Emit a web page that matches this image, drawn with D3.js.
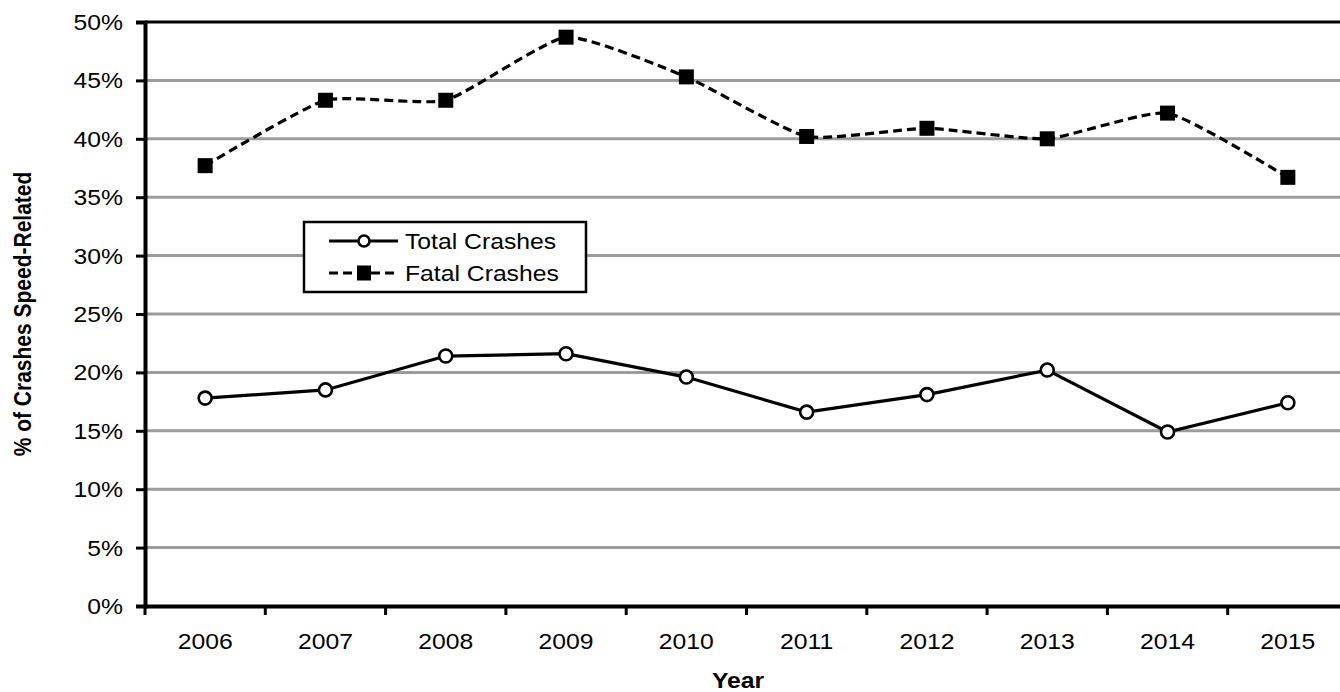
<!DOCTYPE html>
<html><head><meta charset="utf-8">
<script src="https://cdn.jsdelivr.net/npm/d3@7"></script>
<style>
html,body{margin:0;padding:0;background:#fff;overflow:hidden}
svg{display:block}
text{font-family:"Liberation Sans",Arial,sans-serif;fill:#000}
</style></head>
<body>
<svg id="chart" width="1340" height="692"></svg>
<script>
const years = ["2006","2007","2008","2009","2010","2011","2012","2013","2014","2015"];
const totalCrashes = [17.8, 18.5, 21.4, 21.6, 19.6, 16.6, 18.1, 20.2, 14.9, 17.4];
const fatalCrashes = [37.7, 43.3, 43.3, 48.7, 45.3, 40.2, 40.9, 40.0, 42.2, 36.7];
const yTicks = [0,5,10,15,20,25,30,35,40,45,50];
const seriesNames = ["Total Crashes","Fatal Crashes"];

(function(){
const svg = d3.select("#chart");
const pLeft = 145, pRight = 1348, pTop = 22, pBottom = 606;
const SX = 1.15, FS = 21.5;

const x = d3.scaleBand().domain(years).range([pLeft, pRight]);
const y = d3.scaleLinear().domain([0, 50]).range([pBottom, pTop]);
const cx = d => x(d) + x.bandwidth()/2;

// gridlines
svg.append("g").selectAll("line").data(yTicks.filter(t => t > 0 && t < 50)).join("line")
  .attr("x1", pLeft).attr("x2", 1340).attr("y1", d => y(d)).attr("y2", d => y(d))
  .attr("stroke", "#9c9c9c").attr("stroke-width", 3);
// top border
svg.append("line").attr("x1", pLeft).attr("x2", 1340).attr("y1", y(50)).attr("y2", y(50))
  .attr("stroke", "#000").attr("stroke-width", 3);

// y axis
const yAxis = d3.axisLeft(y).tickValues(yTicks).tickSize(9).tickFormat(d => d + "%");
const gy = svg.append("g").attr("transform", `translate(${pLeft},0)`).call(yAxis);
gy.select(".domain").attr("stroke", "#000").attr("stroke-width", 4);
gy.selectAll(".tick line").attr("stroke", "#000").attr("stroke-width", 3);
gy.selectAll(".tick text").each(function(d){
  d3.select(this).attr("x", null).attr("dy", null).attr("text-anchor", "end")
   .attr("font-size", FS).attr("font-family", null)
   .attr("transform", `translate(${-22},${7.5}) scale(${SX},1)`);
});

// x axis
const xAxis = d3.axisBottom(x).tickSize(0).tickSizeOuter(0);
const gx = svg.append("g").attr("transform", `translate(0,${pBottom})`).call(xAxis);
gx.select(".domain").attr("stroke", "#000").attr("stroke-width", 4);
gx.selectAll(".tick line").remove();
gx.selectAll(".tick text").each(function(d){
  d3.select(this).attr("y", null).attr("dy", null).attr("text-anchor", "middle")
    .attr("font-size", FS).attr("font-family", null)
    .attr("transform", `translate(0,${43}) scale(${SX},1)`);
});
// boundary ticks
const bounds = years.map(d => x(d)).concat([pRight]);
svg.append("g").selectAll("line").data(bounds).join("line")
  .attr("x1", d => d).attr("x2", d => d).attr("y1", pBottom).attr("y2", pBottom + 9)
  .attr("stroke", "#000").attr("stroke-width", 3);

// lines
const lineStraight = d3.line().x((d,i) => cx(years[i])).y(d => y(d));
const lineSmooth = d3.line().x((d,i) => cx(years[i])).y(d => y(d)).curve(d3.curveCardinal.tension(0.5));

svg.append("path").datum(fatalCrashes).attr("d", lineSmooth)
  .attr("fill", "none").attr("stroke", "#000").attr("stroke-width", 3.2).attr("stroke-dasharray", "9,5");
svg.append("path").datum(totalCrashes).attr("d", lineStraight)
  .attr("fill", "none").attr("stroke", "#000").attr("stroke-width", 3.2);

svg.append("g").selectAll("rect").data(fatalCrashes).join("rect")
  .attr("x", (d,i) => cx(years[i]) - 7.5).attr("y", d => y(d) - 7.5)
  .attr("width", 15).attr("height", 15).attr("fill", "#000");
svg.append("g").selectAll("ellipse").data(totalCrashes).join("ellipse")
  .attr("cx", (d,i) => cx(years[i])).attr("cy", d => y(d))
  .attr("rx", 6.5).attr("ry", 6.5).attr("fill", "#fff").attr("stroke", "#000").attr("stroke-width", 2.6);

// legend
const lg = svg.append("g");
lg.append("rect").attr("x", 304).attr("y", 222).attr("width", 282).attr("height", 70)
  .attr("fill", "#fff").attr("stroke", "#000").attr("stroke-width", 2.5);
const rows = [{name: seriesNames[0], yy: 241, dash: null, mk: "circle"},
              {name: seriesNames[1], yy: 273, dash: "9,5", mk: "rect"}];
rows.forEach(r => {
  lg.append("line").attr("x1", 329).attr("x2", 398).attr("y1", r.yy).attr("y2", r.yy)
    .attr("stroke", "#000").attr("stroke-width", 3.2).attr("stroke-dasharray", r.dash);
  if (r.mk === "circle") {
    lg.append("circle").attr("cx", 364).attr("cy", r.yy).attr("r", 5.5)
      .attr("fill", "#fff").attr("stroke", "#000").attr("stroke-width", 2.6);
  } else {
    lg.append("rect").attr("x", 357).attr("y", r.yy - 7.5).attr("width", 14).attr("height", 15).attr("fill", "#000");
  }
  lg.append("text").attr("font-size", FS)
    .attr("transform", `translate(405,${r.yy + 7.5}) scale(${SX},1)`).text(r.name);
});

// axis titles
svg.append("text").attr("font-size", FS).attr("font-weight", "bold").attr("text-anchor", "middle")
  .attr("transform", `translate(${738},${688}) scale(${SX},1)`).text("Year");
svg.append("text").attr("font-size", 21).attr("font-weight", "bold").attr("text-anchor", "middle")
  .attr("transform", `translate(${31},${(pTop+pBottom)/2}) scale(1.12,1) rotate(-90)`).text("% of Crashes Speed-Related");
})();
</script>
</body></html>
